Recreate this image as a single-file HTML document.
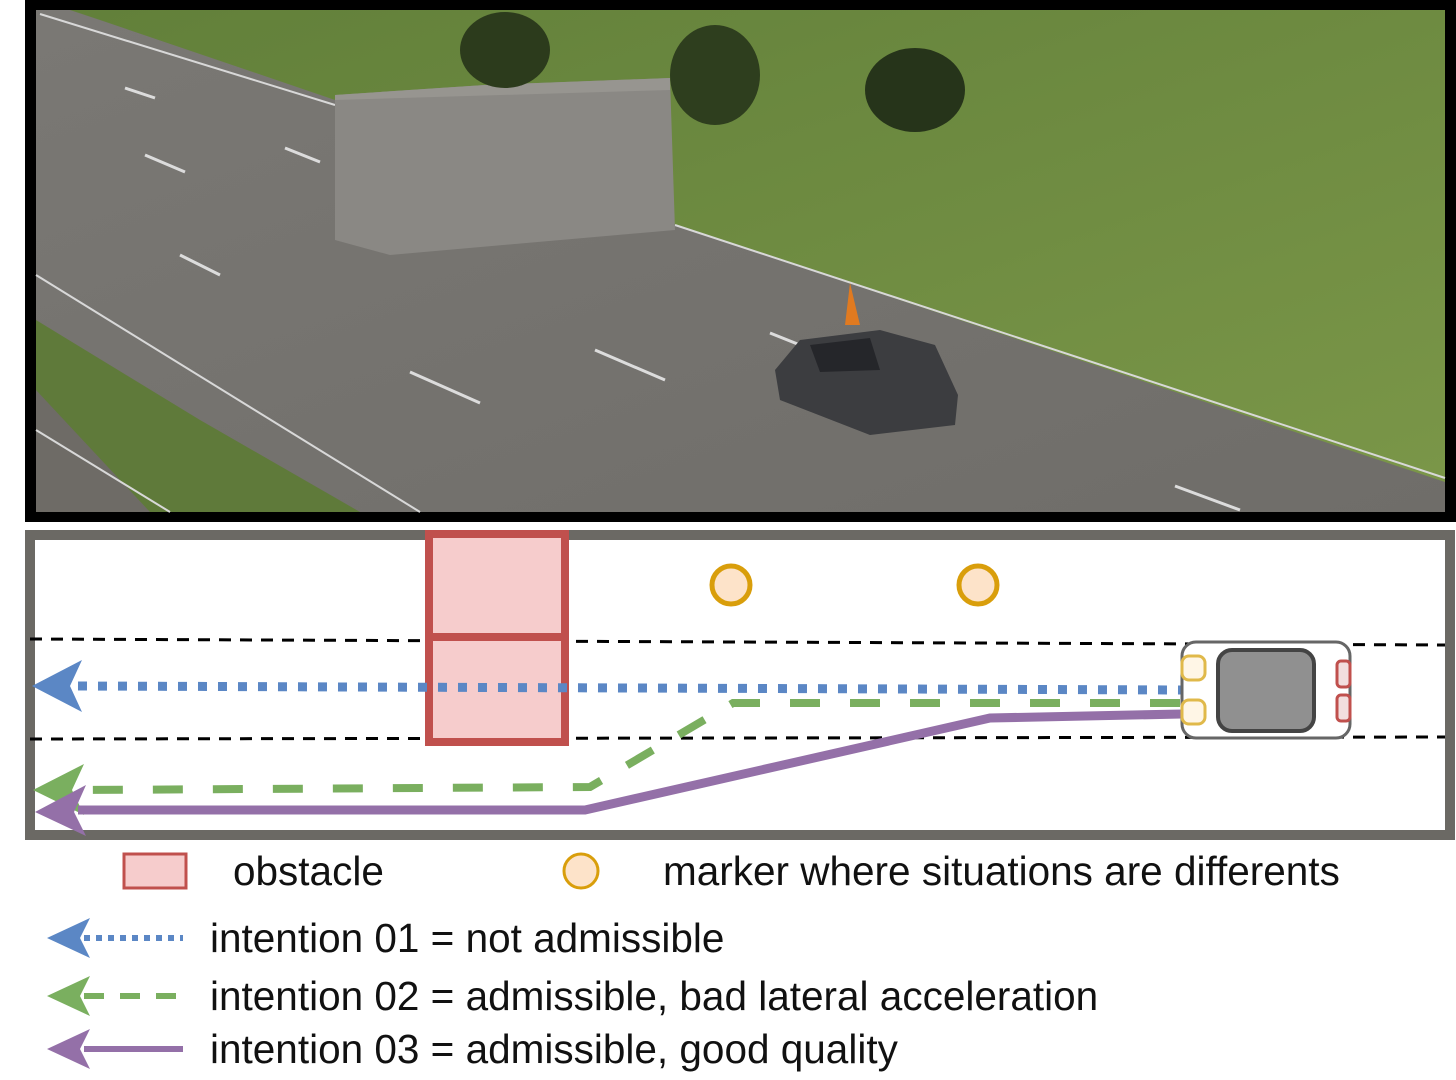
<!DOCTYPE html>
<html><head><meta charset="utf-8"><style>
html,body{margin:0;padding:0;background:#fff;width:1456px;height:1080px;overflow:hidden}
svg{display:block}
text{font-family:"Liberation Sans",Arial,sans-serif;font-size:40.5px;fill:#111}
</style></head><body>
<svg width="1456" height="1080" viewBox="0 0 1456 1080" xmlns="http://www.w3.org/2000/svg">
<defs>
<linearGradient id="rd" x1="0" y1="0" x2="1" y2="1"><stop offset="0" stop-color="#7a7874"/><stop offset="1" stop-color="#6f6d69"/></linearGradient>
<linearGradient id="gr" x1="0" y1="0" x2="1" y2="1"><stop offset="0" stop-color="#62803a"/><stop offset="1" stop-color="#7a9648"/></linearGradient>
</defs>
<rect x="25" y="0" width="1431" height="522" fill="#000"/>
<rect x="36" y="10" width="1409" height="502" fill="url(#rd)"/>
<polygon points="70,10 1445,10 1445,482 675,225 335,100 100,20" fill="url(#gr)"/>
<polygon points="36,320 36,512 360,512 200,420" fill="#5f7a3a"/>
<polygon points="36,390 36,512 150,512" fill="#6e6b66"/>
<line x1="40" y1="14" x2="335" y2="105" stroke="#d8d8d8" stroke-width="2"/>
<line x1="675" y1="225" x2="1445" y2="478" stroke="#d8d8d8" stroke-width="2"/>
<line x1="36" y1="275" x2="420" y2="512" stroke="#d8d8d8" stroke-width="2"/>
<line x1="36" y1="430" x2="170" y2="512" stroke="#d8d8d8" stroke-width="2"/>
<g stroke="#dcdcdc" stroke-width="3">
<line x1="125" y1="88" x2="155" y2="98"/><line x1="145" y1="155" x2="185" y2="172"/>
<line x1="180" y1="255" x2="220" y2="275"/><line x1="410" y1="372" x2="480" y2="403"/>
<line x1="595" y1="350" x2="665" y2="380"/><line x1="770" y1="333" x2="800" y2="345"/>
<line x1="1175" y1="486" x2="1240" y2="510"/><line x1="285" y1="148" x2="320" y2="162"/>
</g>
<polygon points="335,95 485,85 670,78 675,230 390,255 335,240" fill="#8a8884"/>
<polygon points="335,95 485,85 670,78 670,90 335,100" fill="#979590"/>
<ellipse cx="505" cy="50" rx="45" ry="38" fill="#2c3b1c"/>
<ellipse cx="715" cy="75" rx="45" ry="50" fill="#2e3e1e"/>
<ellipse cx="915" cy="90" rx="50" ry="42" fill="#26341a"/>
<polygon points="850,283 845,325 860,325" fill="#e07a20"/>
<path d="M775,370 L800,340 L880,330 L935,345 L958,395 L955,425 L870,435 L780,400 Z" fill="#3c3d40"/>
<path d="M810,345 L870,338 L880,370 L820,372 Z" fill="#25262a"/>
<rect x="30" y="535" width="1420" height="300" fill="#fff" stroke="#6b6964" stroke-width="10"/>
<line x1="30" y1="639" x2="1445" y2="645" stroke="#000" stroke-width="3" stroke-dasharray="12 9"/>
<line x1="30" y1="739" x2="1445" y2="737" stroke="#000" stroke-width="3" stroke-dasharray="12 9"/>
<rect x="429" y="534" width="136" height="208" fill="#f6cccc" stroke="#c0504d" stroke-width="8"/>
<line x1="429" y1="637" x2="565" y2="637" stroke="#c0504d" stroke-width="8"/>
<circle cx="731" cy="585" r="19" fill="#fde3c9" stroke="#d99e0b" stroke-width="5"/>
<circle cx="978" cy="585" r="19" fill="#fde3c9" stroke="#d99e0b" stroke-width="5"/>
<line x1="78" y1="686" x2="1182" y2="690" stroke="#5b87c5" stroke-width="9" stroke-dasharray="9 11"/>
<polygon points="32,686 82,660 70,686 82,712" fill="#5b87c5"/>
<polyline points="1180,703 733,703 590,787 80,790" fill="none" stroke="#7aaf5f" stroke-width="8" stroke-dasharray="30 30"/>
<polygon points="33,790 84,764 72,790 84,815" fill="#7aaf5f"/>
<polyline points="1182,714 990,718 585,810 78,810" fill="none" stroke="#9470a8" stroke-width="9"/>
<polygon points="35,812 86,785 74,812 86,836" fill="#9470a8"/>
<rect x="1182" y="642" width="168" height="96" rx="14" fill="#fff" stroke="#666" stroke-width="3"/>
<rect x="1218" y="650" width="96" height="81" rx="14" fill="#909090" stroke="#444" stroke-width="4"/>
<rect x="1182" y="656" width="23" height="24" rx="7" fill="#fff6e6" stroke="#e0b94a" stroke-width="3"/>
<rect x="1182" y="700" width="23" height="24" rx="7" fill="#fff6e6" stroke="#e0b94a" stroke-width="3"/>
<rect x="1337" y="661" width="13" height="26" rx="4" fill="#f2dede" stroke="#c0504d" stroke-width="3"/>
<rect x="1337" y="695" width="13" height="26" rx="4" fill="#f2dede" stroke="#c0504d" stroke-width="3"/>
<rect x="124" y="854" width="62" height="34" fill="#f6cccc" stroke="#c0504d" stroke-width="3"/>
<text x="233" y="885">obstacle</text>
<circle cx="581" cy="871" r="17" fill="#fde3c9" stroke="#d99e0b" stroke-width="3"/>
<text x="663" y="885">marker where situations are differents</text>
<line x1="84" y1="938" x2="183" y2="938" stroke="#5b87c5" stroke-width="6" stroke-dasharray="6 6"/>
<polygon points="47,938 90,918 80,938 90,958" fill="#5b87c5"/>
<text x="210" y="952">intention 01 = not admissible</text>
<line x1="84" y1="996" x2="183" y2="996" stroke="#7aaf5f" stroke-width="6" stroke-dasharray="20 16"/>
<polygon points="47,996 90,976 80,996 90,1016" fill="#7aaf5f"/>
<text x="210" y="1010">intention 02 = admissible, bad lateral acceleration</text>
<line x1="84" y1="1049" x2="183" y2="1049" stroke="#9470a8" stroke-width="6"/>
<polygon points="47,1049 90,1029 80,1049 90,1069" fill="#9470a8"/>
<text x="210" y="1063">intention 03 = admissible, good quality</text>
</svg>
</body></html>
